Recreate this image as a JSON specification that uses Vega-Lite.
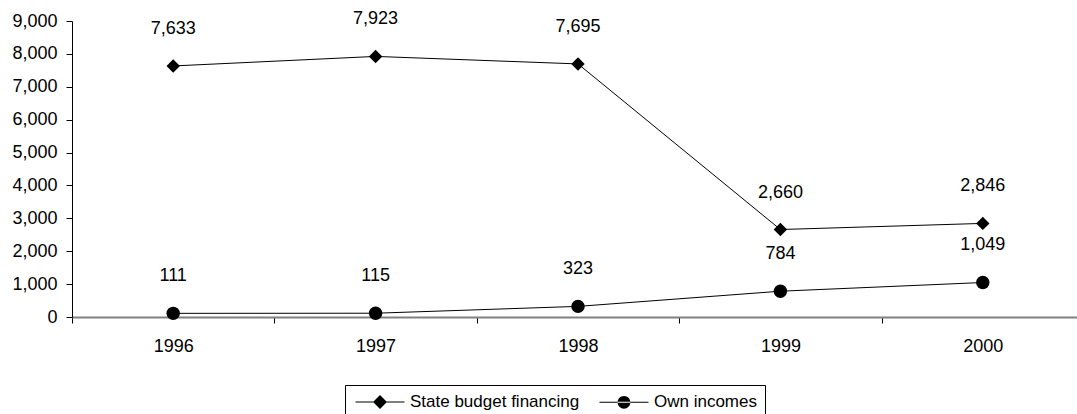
{
  "$schema": "https://vega.github.io/schema/vega-lite/v6.json",
  "autosize": {"type": "none"},
  "padding": {"left": 72, "top": 21, "right": 0, "bottom": 97},
  "width": 1005,
  "height": 296,
  "background": "white",
  "config": {
    "view": {"stroke": null},
    "font": "Liberation Sans",
    "axis": {"labelFont": "Liberation Sans", "labelColor": "black", "grid": false}
  },
  "data": {
    "values": [
      {"year": "1996", "series": "State budget financing", "value": 7633},
      {"year": "1997", "series": "State budget financing", "value": 7923},
      {"year": "1998", "series": "State budget financing", "value": 7695},
      {"year": "1999", "series": "State budget financing", "value": 2660},
      {"year": "2000", "series": "State budget financing", "value": 2846},
      {"year": "1996", "series": "Own incomes", "value": 111},
      {"year": "1997", "series": "Own incomes", "value": 115},
      {"year": "1998", "series": "Own incomes", "value": 323},
      {"year": "1999", "series": "Own incomes", "value": 784},
      {"year": "2000", "series": "Own incomes", "value": 1049}
    ]
  },
  "encoding": {
    "x": {
      "field": "year", "type": "ordinal",
      "scale": {"type": "band", "paddingInner": 0, "paddingOuter": 0, "range": [0, 1012]},
      "axis": {
        "title": null, "labelAngle": 0, "domainColor": "#808080", "domainWidth": 2,
        "tickColor": "black", "tickSize": 6, "tickBand": "extent",
        "labelPadding": 14, "labelFontSize": 18
      }
    },
    "y": {
      "field": "value", "type": "quantitative",
      "scale": {"domain": [0, 9000], "nice": false},
      "axis": {
        "title": null, "values": [0, 1000, 2000, 3000, 4000, 5000, 6000, 7000, 8000, 9000],
        "format": ",.0f", "domainColor": "black", "tickColor": "black", "tickSize": 6,
        "labelPadding": 9, "labelFontSize": 18
      }
    }
  },
  "layer": [
    {
      "mark": {"type": "line", "color": "black", "strokeWidth": 1},
      "encoding": {"detail": {"field": "series", "type": "nominal"}}
    },
    {
      "mark": {"type": "point", "filled": true, "color": "black", "size": 180, "opacity": 1},
      "encoding": {
        "shape": {
          "field": "series", "type": "nominal",
          "scale": {"domain": ["State budget financing", "Own incomes"], "range": ["diamond", "circle"]},
          "legend": null
        }
      }
    },
    {
      "mark": {"type": "point", "filled": true, "fill": "black", "size": 256, "opacity": 0},
      "encoding": {
        "shape": {
          "field": "series", "type": "nominal",
          "scale": {
            "domain": ["State budget financing", "Own incomes"],
            "range": [
              "M-3.06,-0.065H3.06V0.065H-3.06Z M0,-0.87L0.87,0L0,0.87L-0.87,0Z",
              "M-3.06,-0.065H3.06V0.065H-3.06Z M-0.8,0A0.8,0.8 0 1,0 0.8,0A0.8,0.8 0 1,0 -0.8,0Z"
            ]
          },
          "legend": {
            "orient": "none", "legendX": 273, "legendY": 364, "direction": "horizontal",
            "title": null, "labelFontSize": 17, "labelFont": "Liberation Sans", "labelColor": "black",
            "labelLimit": 400,
            "strokeColor": "black", "fillColor": "white", "padding": 8,
            "symbolSize": 256, "symbolOffset": 18, "labelOffset": 21, "columnPadding": 16,
            "symbolOpacity": 1, "symbolFillColor": "black",
            "encode": {
              "symbols": {
                "fill": {"value": "black"},
                "opacity": {"value": 1}
              }
            }
          }
        }
      }
    },
    {
      "mark": {"type": "text", "dy": -37, "fontSize": 18, "font": "Liberation Sans", "color": "black", "baseline": "middle"},
      "encoding": {"text": {"field": "value", "type": "quantitative", "format": ","}}
    }
  ],
  "resolve": {"scale": {"shape": "independent"}, "legend": {"shape": "independent"}}
}
